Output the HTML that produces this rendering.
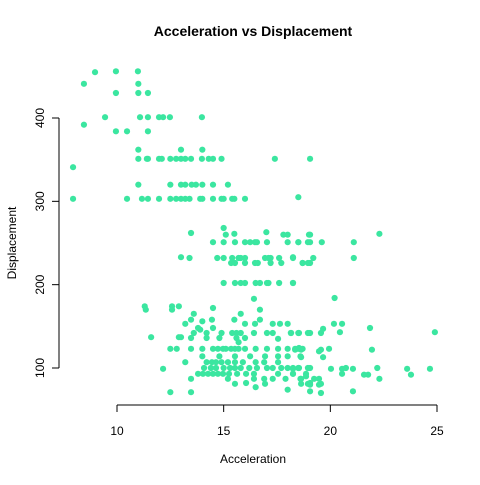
<!DOCTYPE html>
<html><head><meta charset="utf-8"><style>
body{margin:0;background:#fff;}
svg text{font-family:"Liberation Sans",Arial,sans-serif;}
</style></head><body>
<svg id="chart" width="480" height="480" xmlns="http://www.w3.org/2000/svg">
<rect width="480" height="480" fill="#fff"/>
<text x="253" y="36" text-anchor="middle" font-size="14" font-weight="bold">Acceleration vs Displacement</text>
<text x="253" y="463" text-anchor="middle" font-size="12">Acceleration</text>
<text x="16" y="243" text-anchor="middle" font-size="12" transform="rotate(-90 16 243)">Displacement</text>
<g id="axes"></g>
<g id="points"></g>
</svg>
<script>
const xTicks=[10,15,20,25];
const yTicks=[100,200,300,400];
const acceleration=[8.97,9.95,10.98,8.45,11.0,9.95,11,11.45,9.44,11.08,11.45,11.97,12.16,12.48,13.98,8.45,9.95,10.47,11.45,11,13,14,
11.0,11.4,11.45,11.97,12.1,12.5,12.77,13,13.2,13.47,13.98,14.3,14.5,14.9,7.94,
11,12.5,13,13.2,13.5,13.7,14,14.5,15.2,
7.94,10.47,11.17,11.45,11.97,12.5,12.77,13,13.2,13.4,13.9,14,14.5,14.9,15,15.4,15.5,16,
19.05,17.4,18.5,22.3,19.05,18.5,19.05,19.6,21.1,18.25,19.2,18.7,19.05,21.1,18.25,20.2,
15,13.47,15.1,15.5,17,17.8,18,19,
14.5,15,15.53,16,16.24,16.47,16.56,17.03,18,18.5,18.95,
13,13.4,14.7,15,15.4,15.7,15.8,16,16.94,17.1,17.2,17.6,18.25,
15.35,15.53,16,16.47,16.6,17.2,17.7,18.7,18.95,
15,15.53,15.8,16,16.5,16.7,17.03,17.1,17.6,18.25,
16.42,12.58,12.9,12.58,14.5,16.7,13.6,15.8,13.47,14,14.45,15.5,16.7,13.2,16,16.47,17.3,17.64,18,13.8,13.9,14.5,11.6,12.9,13,13.6,14.2,14.9,15.4,15.6,15.8,
16.42,17.03,17.3,18.15,18.5,18.95,13.47,14.2,14.8,15.6,16,15.7,17.55,
12.5,12.8,13.47,14,14.5,14.73,14.97,15.1,15.35,15.53,15.7,16,16.5,17.03,17.55,18,18.35,18.5,18.7,
14,14.8,15.53,16.24,16.94,17.55,18,18.6,
13.2,14.2,14.45,14.64,14.9,15.2,15.53,15.9,16.5,16.9,17.55,
12.16,14.08,14.4,14.64,15,15.3,15.53,15.8,16.2,16.56,17.03,17.3,17.7,18,18.25,18.5,18.95,
13.8,14.03,14.27,14.5,14.73,14.97,15.25,15.63,16.05,16.42,17.55,18.25,18.86,
15.2,16.42,16.9,17.3,17.9,18.6,
13.47,15.53,16.05,16.94,18,18.95,12.5,13.47,16.5,
20.17,20.55,21.86,24.9,18.16,18.53,19.05,19.56,19.66,20.45,
18.35,18.53,18.63,19.47,19.56,19.94,21.95,18.63,19.66,
18.25,18.53,19.05,20.03,20.55,20.73,21.06,22.2,23.6,24.67,
18.25,18.86,20.55,21.58,21.77,23.78,
18.63,19.24,19.47,22.3,18.63,19.05,19.05,19.47,19.56,19.05,19.56,21.06,11.3,11.35];
const displacement=[455,456,456,441,441,430,430,430,401,401,401,401,401,401,401,392,384,384,384,362,362,362,
351,351,351,351,351,351,351,351,351,351,351,351,351,351,341,
320,320,320,320,320,320,320,320,320,
303,303,303,303,303,303,303,303,303,303,303,303,303,303,303,303,303,303,
351,351,305,261,260,251,251,251,251,233,232,226,226,232,202,184,
268,262,260,261,263,260,260,260,
251,251,251,251,251,251,251,251,251,251,251,
233,232,232,232,232,232,232,232,232,232,232,232,232,
226,226,226,226,226,226,226,226,226,
202,202,202,202,202,202,202,202,202,202,
183,174,174,170,172,170,165,165,158,156,158,158,158,153,153,153,153,153,153,148,146,148,137,137,137,142,142,142,142,142,142,
142,142,142,142,142,142,136,136,136,136,136,131,135,
123,123,123,123,123,123,123,123,123,123,123,123,123,123,123,123,123,123,123,
114,114,114,114,114,114,114,114,
107,107,107,107,107,107,107,107,107,107,107,
99,100,100,100,100,100,100,100,100,100,100,100,100,100,100,100,100,
93,93,93,93,93,93,93,93,93,93,93,93,93,
87,87,87,87,87,87,
87,81,82,81,74,81,71,71,77,
153,153,148,143,142,142,142,142,147,143,
122,124,122,120,122,123,122,113,113,
99,100,100,99,99,100,99,100,99,99,
93,90,93,92,92,92,
87,87,87,87,81,82,80,80,81,72,70,72,174,170];
const NS='http://www.w3.org/2000/svg';
function sx(v){return 117+(v-10)*(320/15);}
function sy(v){return 368-(v-100)*(250/300);}
const axes=document.getElementById('axes');
function mk(tag,attrs,parent){const e=document.createElementNS(NS,tag);for(const k in attrs)e.setAttribute(k,attrs[k]);parent.appendChild(e);return e;}
let xl=mk('line',{x1:sx(xTicks[0]),x2:sx(xTicks[xTicks.length-1]),y1:405,y2:405,stroke:'#000'},axes);


xTicks.forEach(t=>{
 const l=mk('line',{x1:sx(t),x2:sx(t),y1:405,y2:412,stroke:'#000'},axes);
 
 
 const tx=mk('text',{x:sx(t),y:435,'text-anchor':'middle','font-size':12},axes);
 tx.textContent=t;
 
 
});
let yl=mk('line',{x1:59,x2:59,y1:sy(yTicks[0]),y2:sy(yTicks[yTicks.length-1]),stroke:'#000'},axes);


yTicks.forEach(t=>{
 const l=mk('line',{x1:52,x2:59,y1:sy(t),y2:sy(t),stroke:'#000'},axes);
 
 
 const tx=mk('text',{x:44,y:sy(t),'text-anchor':'middle','font-size':12,transform:'rotate(-90 44 '+sy(t)+')'},axes);
 tx.textContent=t;
 
 
});
const pts=document.getElementById('points');
acceleration.forEach((a,i)=>{
 const c=mk('circle',{cx:sx(a),cy:sy(displacement[i]),r:3.1,fill:'#3be6a0'},pts);
 
 
});
</script>
</body></html>
